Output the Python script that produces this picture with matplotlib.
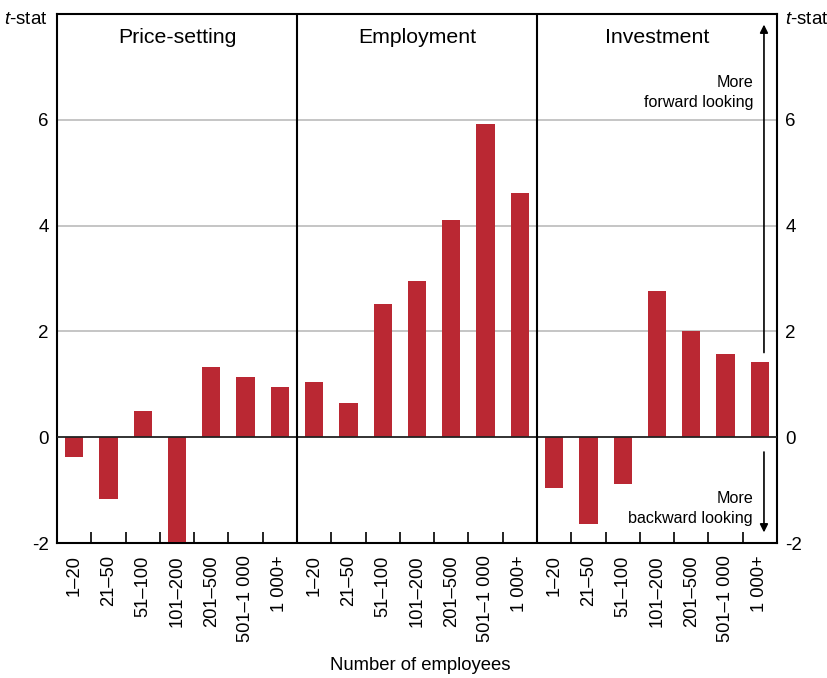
import matplotlib
matplotlib.use("Agg")
import matplotlib.pyplot as plt
import numpy as np

plt.rcParams['font.family'] = ['Liberation Sans', 'DejaVu Sans']
plt.rcParams['mathtext.fontset'] = 'custom'
plt.rcParams['mathtext.it'] = 'Liberation Sans:italic'
plt.rcParams['mathtext.rm'] = 'Liberation Sans'

panels = ["Price-setting", "Employment", "Investment"]
categories = ["1–20", "21–50", "51–100", "101–200", "201–500", "501–1 000", "1 000+"]
price_setting = [-0.38, -1.17, 0.49, -1.98, 1.32, 1.13, 0.94]
employment = [1.04, 0.64, 2.51, 2.96, 4.11, 5.92, 4.62]
investment = [-0.96, -1.64, -0.88, 2.77, 2.0, 1.57, 1.43]
yticks = [-2, 0, 2, 4, 6]

series = [price_setting, employment, investment]
values = np.concatenate(series)
labels = categories * 3
n = len(categories)
x = np.arange(len(values))

fig = plt.figure(figsize=(8.27, 6.78), dpi=100)
ax = fig.add_axes([57/827, 1-543/678, 720/827, 529/678])

color = '#BA2833'
ax.bar(x, values, width=0.53, color=color, zorder=3)

ax.set_xlim(-0.5, len(values) - 0.5)
ax.set_ylim(-2, 8)

# gridlines
for yv in yticks:
    if yv in (-2, 0):
        continue
    ax.axhline(yv, color='#BBBBBB', lw=1.2, zorder=1)
ax.axhline(0, color='#222222', lw=1.3, zorder=4)

# panel dividers
for b in range(1, len(panels)):
    ax.axvline(b * n - 0.5, color='black', lw=1.5, zorder=5)

for s in ax.spines.values():
    s.set_linewidth(1.5)

# y ticks both sides
ax.set_yticks(yticks)
ax.set_yticklabels([str(v) for v in yticks])
ax.tick_params(axis='y', length=0, labelsize=13.5, pad=6, left=True, right=True,
               labelleft=True, labelright=True)

# x ticks
ax.set_xticks(x)
ax.set_xticklabels(labels, rotation=90, fontsize=13.2)
ax.tick_params(axis='x', which='major', length=0, pad=9)
minor = [i + 0.5 for i in range(len(values) - 1) if (i + 1) % n != 0]
ax.set_xticks(minor, minor=True)
ax.tick_params(axis='x', which='minor', direction='in', length=8, width=1.2)

# panel titles
for i, p in enumerate(panels):
    ax.text(i * n + (n - 1) / 2, 7.55, p, ha='center', va='center', fontsize=15.3)

# t-stat labels
fig.text(48/827, 1-20/678, r'$\mathit{t}$-stat', ha='right', va='center', fontsize=13.5)
fig.text(785/827, 1-20/678, r'$\mathit{t}$-stat', ha='left', va='center', fontsize=13.5)

# arrows
xa = 20.12
ax.annotate('', xy=(xa, 7.8), xytext=(xa, 1.6),
            arrowprops=dict(arrowstyle='-|>', color='black', lw=1.2,
                            mutation_scale=12, shrinkA=0, shrinkB=0), zorder=6)
ax.annotate('', xy=(xa, -1.8), xytext=(xa, -0.28),
            arrowprops=dict(arrowstyle='-|>', color='black', lw=1.2,
                            mutation_scale=12, shrinkA=0, shrinkB=0), zorder=6)
ax.text(19.8, 6.52, "More\nforward looking", ha='right', va='center',
        fontsize=11.6, linespacing=1.45)
ax.text(19.8, -1.35, "More\nbackward looking", ha='right', va='center',
        fontsize=11.6, linespacing=1.45)

fig.text(0.5 * (57 + 777) / 827 + 0.004, 1-665/678, "Number of employees",
         ha='center', va='center', fontsize=13.3)

fig.savefig("out.png", dpi=100)
